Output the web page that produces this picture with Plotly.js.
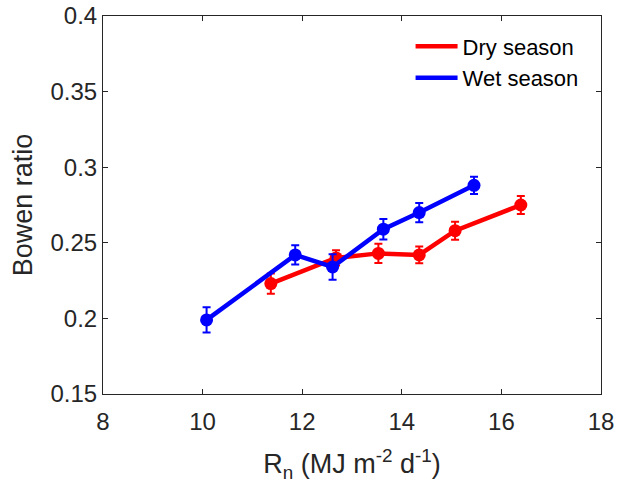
<!DOCTYPE html>
<html><head><meta charset="utf-8">
<script src="https://cdn.plot.ly/plotly-3.0.1.min.js"></script>
<style>body{margin:0;background:#fff}#c{width:619px;height:492px}</style>
</head><body><div id="c"></div>
<script>
const dryX = [11.37, 12.68, 13.53, 14.35, 15.07, 16.39];
const dryY = [0.223, 0.240, 0.243, 0.242, 0.258, 0.275];
const dryErr = [0.0067, 0.005, 0.0064, 0.0055, 0.006, 0.006];
const wetX = [10.08, 11.86, 12.61, 13.63, 14.35, 15.45];
const wetY = [0.199, 0.242, 0.234, 0.259, 0.270, 0.288];
const wetErr = [0.0084, 0.0063, 0.0085, 0.0068, 0.0064, 0.0057];
const xTicks = [8, 10, 12, 14, 16, 18];
const yTicks = [0.15, 0.2, 0.25, 0.3, 0.35, 0.4];
const yTickText = ['0.15', '0.2', '0.25', '0.3', '0.35', '0.4'];

const FONT = 'Liberation Sans, Arial, sans-serif';
function tr(name, x, y, e, col){
  return {type:'scatter', mode:'lines+markers', name:name, x:x, y:y, showlegend:false,
    line:{color:col, width:4.5}, marker:{color:col, size:13},
    error_y:{type:'data', array:e, visible:true, color:col, thickness:2, width:4}};
}
function legTr(name, col){
  return {type:'scatter', mode:'lines', name:name, x:[null], y:[null], line:{color:col, width:4.5}};
}
const data = [tr('Dry season', dryX, dryY, dryErr, '#ff0000'), tr('Wet season', wetX, wetY, wetErr, '#0000ff'),
  legTr('Dry season', '#ff0000'), legTr('Wet season', '#0000ff')];
const axisBase = {showgrid:false, zeroline:false, showline:true, linecolor:'#262626', linewidth:1,
  mirror:'ticks', ticks:'inside', ticklen:5, tickcolor:'#262626',
  tickfont:{family:FONT, size:24, color:'#262626'}};
const layout = {
  width:619, height:492, paper_bgcolor:'#fff', plot_bgcolor:'#fff',
  margin:{l:103, r:18, t:16, b:98},
  showlegend:true,
  legend:{x:0.965, y:0.975, xanchor:'right', yanchor:'top', bgcolor:'rgba(0,0,0,0)',
    font:{family:FONT, size:22, color:'#000'}, tracegroupgap:0, itemwidth:42},
  xaxis:Object.assign({}, axisBase, {range:[8,18], tickvals:xTicks, ticklabelstandoff:6,
    title:{text:'R<sub>n</sub> (MJ m<sup>-2</sup> d<sup>-1</sup>)', standoff:20,
      font:{family:FONT, size:27, color:'#262626'}}}),
  yaxis:Object.assign({}, axisBase, {range:[0.15,0.4], tickvals:yTicks, ticktext:yTickText,
    title:{text:'Bowen ratio', standoff:10,
      font:{family:FONT, size:27, color:'#262626'}}})
};
Plotly.newPlot('c', data, layout, {displayModeBar:false});
</script></body></html>
